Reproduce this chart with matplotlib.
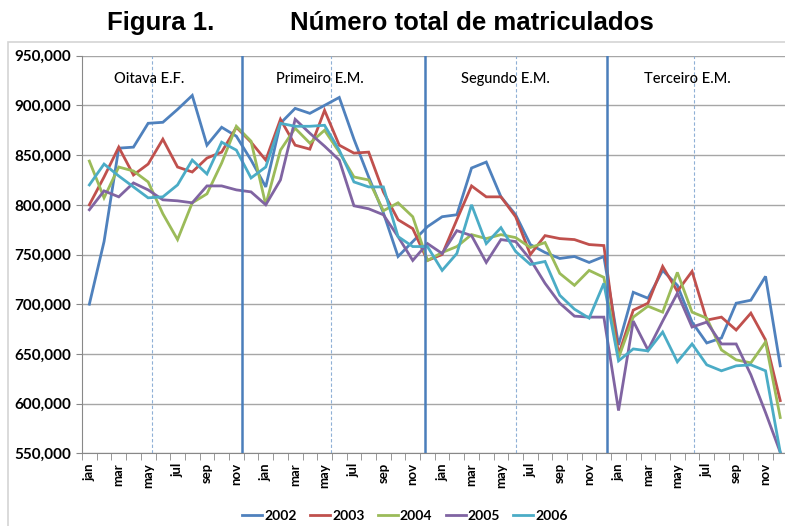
"""
Figura 1 - Numero total de matriculados, por serie e mes (2002-2006).
"""

import matplotlib
matplotlib.use("Agg")
import matplotlib.pyplot as plt
from matplotlib.patches import Rectangle
from matplotlib.ticker import FuncFormatter, MultipleLocator


MONTHS = ["jan", "feb", "mar", "apr", "may", "jun",
          "jul", "aug", "sep", "oct", "nov", "dec"]
GROUPS = ["Oitava E.F.", "Primeiro E.M.", "Segundo E.M.", "Terceiro E.M."]
YEARS = ["2002", "2003", "2004", "2005", "2006"]

# enrolments in thousands, 4 grades x 12 months
s2002 = [700, 763, 857, 858, 882, 883, 896, 910, 860, 878, 869, 845,
         818, 882, 897, 892, 900, 908, 866, 828, 792, 748, 763, 778,
         788, 790, 837, 843, 808, 790, 760, 752, 746, 748, 742, 748,
         659, 712, 706, 734, 719, 682, 661, 666, 701, 704, 728, 638]
s2003 = [800, 828, 858, 830, 841, 866, 838, 833, 847, 853, 878, 863,
         845, 886, 860, 856, 895, 860, 852, 853, 813, 785, 776, 744,
         750, 785, 819, 808, 808, 788, 750, 769, 766, 765, 760, 759,
         649, 694, 701, 738, 713, 733, 684, 687, 674, 691, 664, 603]
s2004 = [844, 807, 838, 834, 823, 791, 765, 802, 811, 842, 879, 864,
         800, 855, 877, 862, 875, 853, 828, 825, 794, 802, 788, 744,
         752, 758, 770, 766, 770, 767, 757, 762, 731, 719, 734, 727,
         646, 687, 698, 692, 732, 692, 686, 654, 644, 641, 662, 586]
s2005 = [795, 814, 808, 822, 815, 805, 804, 802, 819, 819, 815, 813,
         800, 825, 886, 872, 859, 845, 799, 796, 790, 768, 744, 761,
         751, 774, 769, 742, 765, 763, 745, 721, 701, 688, 687, 687,
         593, 683, 654, 683, 711, 677, 682, 660, 660, 629, 591, 551]
s2006 = [820, 841, 829, 818, 807, 808, 820, 845, 831, 863, 855, 827,
         838, 882, 879, 879, 880, 855, 823, 818, 818, 768, 758, 758,
         734, 751, 800, 761, 777, 753, 740, 743, 709, 695, 686, 721,
         643, 655, 653, 672, 642, 660, 639, 633, 638, 639, 633, 551]

# hand-drawn separators (category units, jan of first grade = 0)
solid_sep = [10.38, 22.83, 35.21]
dashed_sep = [4.26, 16.44, 29.02, 41.13]
group_label_x = [4.1, 15.67, 28.3, 40.65]

COLORS = ["#4F81BD", "#C0504D", "#9BBB59", "#8064A2", "#4BACC6"]
W, H = 785, 526
SANS = ["Lato", "DejaVu Sans"]


def main():
    fig = plt.figure(figsize=(W / 100, H / 100), dpi=100)
    fig.patch.set_facecolor("white")

    # chart frame
    fig.patches.append(Rectangle((8 / W, -0.05), 1.0, (H - 42) / H + 0.05,
                                 transform=fig.transFigure, fill=False,
                                 edgecolor="#d4d4d4", linewidth=1.2))

    left, right, top, bottom = 82, 787.6, 55.7, 453.3
    ax = fig.add_axes([left / W, (H - bottom) / H,
                       (right - left) / W, (bottom - top) / H])

    series = [s2002, s2003, s2004, s2005, s2006]
    n = len(MONTHS) * len(GROUPS)
    x = list(range(n))
    for name, vals, col in zip(YEARS, series, COLORS):
        ax.plot(x, [v * 1000 for v in vals], color=col, linewidth=2,
                label=name, solid_joinstyle="miter", zorder=3)

    for xs in solid_sep:
        ax.axvline(xs, color="#4a7ebb", linewidth=1.8, zorder=4)
    for xs in dashed_sep:
        ax.axvline(xs, color="#8fb0d6", linewidth=0.8,
                   linestyle=(0, (3, 2)), zorder=2)

    for gx, g in zip(group_label_x, GROUPS):
        ax.text(gx, 927000, g, ha="center", va="center", fontsize=10.5,
                fontweight="medium", family=SANS, zorder=5)

    ax.set_xlim(-0.5, n - 0.5)
    ax.set_ylim(550000, 950000)
    ax.yaxis.set_major_locator(MultipleLocator(50000))
    ax.yaxis.set_major_formatter(FuncFormatter(lambda v, p: f"{int(v):,}"))
    ax.grid(axis="y", color="#a6a6a6", linewidth=1.0, zorder=0)

    ax.set_xticks(x[::2])
    ax.set_xticklabels([MONTHS[i % 12] for i in x[::2]], rotation=90,
                       fontsize=9.5, fontweight="bold", family=SANS)
    ax.set_xticks([i - 0.5 for i in range(n + 1)], minor=True)
    ax.tick_params(axis="x", which="major", length=0, pad=7)
    ax.tick_params(axis="x", which="minor", length=5, color="#888888")
    ax.tick_params(axis="y", length=4, color="#888888", pad=4)
    for lab in ax.get_yticklabels():
        lab.set_fontsize(11)
        lab.set_fontweight("bold")
        lab.set_family(SANS)

    for s in ["top", "right"]:
        ax.spines[s].set_visible(False)
    ax.spines["left"].set_color("#888888")
    ax.spines["bottom"].set_color("#888888")

    fig.legend(loc="center", bbox_to_anchor=(405 / W, 1 - 516 / H), ncol=5,
               frameon=False, handlelength=1.45, columnspacing=0.95,
               handletextpad=0.15,
               prop={"family": SANS, "weight": "bold", "size": 10})

    title_font = ["Liberation Sans", "DejaVu Sans"]
    fig.text(161 / W, 1 - 23 / H, "Figura 1.", ha="center", va="center",
             fontsize=18.5, fontweight="bold", family=title_font)
    fig.text(472 / W, 1 - 23 / H, "Número total de matriculados",
             ha="center", va="center", fontsize=18.5, fontweight="bold",
             family=title_font)

    fig.savefig("out.png", dpi=100)
    plt.close(fig)


if __name__ == "__main__":
    main()
